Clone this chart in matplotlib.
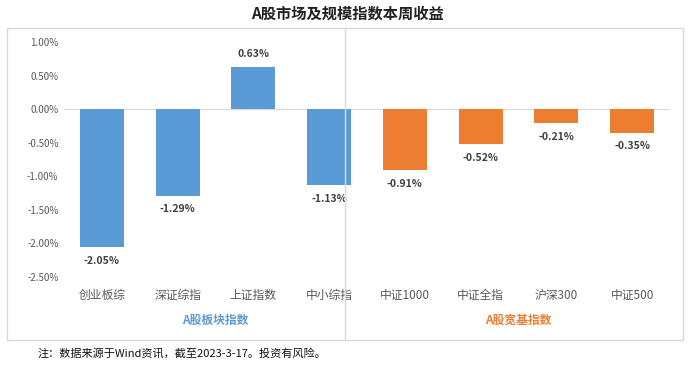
import matplotlib.pyplot as plt
from matplotlib.patches import Rectangle
from matplotlib.lines import Line2D
import numpy as np

plt.rcParams['font.family'] = ['Noto Sans CJK SC', 'DejaVu Sans']

# data
categories = ["创业板综", "深证综指", "上证指数", "中小综指",
              "中证1000", "中证全指", "沪深300", "中证500"]
returns = [-2.05, -1.29, 0.63, -1.13, -0.91, -0.52, -0.21, -0.35]
groups = ["A股板块指数", "A股宽基指数"]
group_size = [4, 4]

blue = "#5B9BD5"
orange = "#ED7D31"
colors = [blue] * group_size[0] + [orange] * group_size[1]

fig = plt.figure(figsize=(6.94, 3.65), dpi=100)
ax = fig.add_axes([64 / 694, 1 - 277 / 365, 606 / 694, 235 / 365])

x = np.arange(len(categories))
ax.bar(x, returns, width=0.58, color=colors)
ax.set_xlim(-0.5, len(categories) - 0.5)
ax.set_ylim(-2.5, 1.0)
ax.set_yticks(np.arange(-2.5, 1.01, 0.5))
ax.set_yticklabels([f"{v:.2f}%" for v in np.arange(-2.5, 1.01, 0.5)],
                   fontsize=7, color="#595959")
ax.set_xticks([])
for s in ax.spines.values():
    s.set_visible(False)
ax.tick_params(axis="y", length=0, pad=4)
ax.axhline(0, color="#d9d9d9", lw=0.8, zorder=0)

for xi, v in zip(x, returns):
    off = 0.12 if v > 0 else -0.13
    ax.text(xi, v + off, f"{v:.2f}%", ha="center",
            va="bottom" if v > 0 else "top",
            fontsize=7.5, fontweight="bold", color="#404040")

# category labels below axis
for xi, c in zip(x, categories):
    ax.text(xi, -2.78, c, ha="center", va="center", fontsize=8.5, color="#595959")

# group labels
start = 0
for g, n, col in zip(groups, group_size, [blue, orange]):
    mid = start + (n - 1) / 2
    ax.text(mid, -3.15, g, ha="center", va="center", fontsize=8.5,
            fontweight="bold", color=col)
    start += n

# outer box and divider
fig.patches.append(Rectangle((7 / 694, 1 - 340 / 365), 676 / 694, 312 / 365,
                             transform=fig.transFigure, fill=False,
                             ec="#d9d9d9", lw=1))
fig.lines.append(Line2D([345 / 694, 345 / 694], [1 - 340 / 365, 1 - 28 / 365],
                        transform=fig.transFigure, color="#d9d9d9", lw=1))

fig.text(0.5, 1 - 14 / 365, "A股市场及规模指数本周收益", ha="center", va="center",
         fontsize=11, fontweight="bold", color="#222222")
fig.text(38 / 694, 1 - 353 / 365, "注：数据来源于Wind资讯，截至2023-3-17。投资有风险。",
         ha="left", va="center", fontsize=8, color="#111111")

fig.savefig("out.png", dpi=100)
